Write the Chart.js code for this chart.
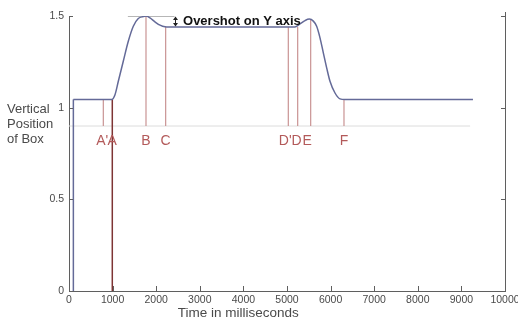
<!DOCTYPE html>
<html>
<head>
<meta charset="utf-8">
<script src="https://cdn.jsdelivr.net/npm/chart.js@4"></script>
<style>
    html, body { margin: 0; padding: 0; background: #ffffff; }
    #wrap { width: 518px; height: 320px; }
</style>
</head>
<body>
<div id="wrap"><canvas id="chart" width="518" height="320"></canvas></div>
<script>
// Box position trace (time in ms, vertical position)
const curveTimes = [100, 980, 1055, 1131, 1245, 1360, 1475, 1589, 1704, 1766, 1858, 1972, 2087, 2202, 2300,
    5180, 5298, 5413, 5512, 5604, 5680, 5757, 5833, 5910, 5986, 6101, 6216, 6330, 9265];
const curveValues = [1.045, 1.045, 1.071, 1.144, 1.253, 1.362, 1.444, 1.486, 1.497, 1.5, 1.49, 1.468, 1.45, 1.441, 1.44,
    1.44, 1.457, 1.475, 1.483, 1.472, 1.444, 1.381, 1.299, 1.217, 1.144, 1.08, 1.048, 1.045, 1.045];

// initial jump of the box
const stepTimes = [100, 100];
const stepValues = [0, 1.045];

// event markers
const markerLabels = ["A'", 'A', 'B', 'C', "D'", 'D', 'E', 'F'];
const markerTimes = [787, 993, 1766, 2217, 5030, 5245, 5543, 6307];
const markerTops = [1.045, 1.045, 1.5, 1.44, 1.44, 1.44, 1.48, 1.045];
const markerBottoms = [0.9, 0, 0.9, 0.9, 0.9, 0.9, 0.9, 0.9];
// letters sit slightly off their lines where they are crowded
const markerLabelTimes = [760, 990, 1766, 2217, 4960, 5220, 5460, 6307];

// threshold line and overshoot annotation
const refTimes = [0, 9200];
const refValues = [0.9, 0.9];
const overshootTimes = [1350, 2420];
const overshootValues = [1.5, 1.5];
const overshootArrowTime = 2430;
const overshootRange = [1.5, 1.44];
const overshootText = 'Overshot on Y axis';

// axes
const xTicks = [0, 1000, 2000, 3000, 4000, 5000, 6000, 7000, 8000, 9000, 10000];
const yTicks = [0, 0.5, 1, 1.5];
const xTitle = 'Time in milliseconds';
const yTitle = ['Vertical', 'Position', 'of Box'];

const FONT = 'Arial, "Liberation Sans", sans-serif';
const axisColor = '#5f5f5f';
const textColor = '#4a4a4a';
const markerColor = '#c99393';
const markerDark = '#7e3434';
const labelColor = '#b35a5a';

const zip = (xs, ys) => xs.map((v, i) => ({ x: v, y: ys[i] }));

const datasets = [
    {
        data: zip(curveTimes, curveValues),
        borderColor: '#646a98',
        borderWidth: 1.5,
        pointRadius: 0,
        cubicInterpolationMode: 'monotone'
    },
    {
        data: zip(stepTimes, stepValues),
        borderColor: '#646a98',
        borderWidth: 1.5,
        pointRadius: 0
    },
    {
        data: zip(overshootTimes, overshootValues),
        borderColor: '#6f6f6f',
        borderWidth: 1,
        pointRadius: 0
    }
];

markerTimes.forEach((t, i) => {
    datasets.push({
        data: [{ x: t, y: markerBottoms[i] }, { x: t, y: markerTops[i] }],
        borderColor: markerLabels[i] === 'A' ? markerDark : markerColor,
        borderWidth: markerLabels[i] === 'A' ? 1.5 : 1.2,
        pointRadius: 0
    });
});

datasets.push({
    data: zip(refTimes, refValues),
    borderColor: '#dcdcdc',
    borderWidth: 1,
    pointRadius: 0
});

// Inward ticks, right edge, labels and annotations
const decorations = {
    id: 'decorations',
    afterDraw(chart) {
        const { ctx, chartArea, scales: { x, y } } = chart;
        ctx.save();
        ctx.strokeStyle = axisColor;
        ctx.lineWidth = 1;

        ctx.beginPath();
        ctx.moveTo(Math.round(chartArea.right) + 0.5, chartArea.top - 4);
        ctx.lineTo(Math.round(chartArea.right) + 0.5, chartArea.bottom);
        ctx.stroke();

        ctx.beginPath();
        xTicks.forEach(v => {
            const px = Math.round(x.getPixelForValue(v)) + 0.5;
            ctx.moveTo(px, chartArea.bottom);
            ctx.lineTo(px, chartArea.bottom - 5);
        });
        yTicks.forEach(v => {
            const py = Math.round(y.getPixelForValue(v)) + 0.5;
            ctx.moveTo(chartArea.left, py);
            ctx.lineTo(chartArea.left + 4, py);
            ctx.moveTo(chartArea.right, py);
            ctx.lineTo(chartArea.right - 4, py);
        });
        ctx.stroke();

        // overshoot arrow
        const ax = Math.round(x.getPixelForValue(overshootArrowTime)) + 0.5;
        const y1 = y.getPixelForValue(overshootRange[0]);
        const y2 = y.getPixelForValue(overshootRange[1]);
        ctx.strokeStyle = '#222';
        ctx.fillStyle = '#222';
        ctx.beginPath();
        ctx.moveTo(ax, y1 + 1);
        ctx.lineTo(ax, y2 - 1);
        ctx.stroke();
        ctx.beginPath();
        ctx.moveTo(ax - 2.5, y1 + 4); ctx.lineTo(ax + 2.5, y1 + 4); ctx.lineTo(ax, y1 + 0.5);
        ctx.moveTo(ax - 2.5, y2 - 4); ctx.lineTo(ax + 2.5, y2 - 4); ctx.lineTo(ax, y2 - 0.5);
        ctx.fill();

        ctx.font = 'bold 13px ' + FONT;
        ctx.textAlign = 'left';
        ctx.textBaseline = 'middle';
        ctx.fillStyle = '#111';
        ctx.fillText(overshootText, x.getPixelForValue(2615), y.getPixelForValue(1.47));

        // marker letters
        ctx.font = '14px ' + FONT;
        ctx.textAlign = 'center';
        ctx.fillStyle = labelColor;
        markerLabels.forEach((lab, i) => {
            ctx.fillText(lab, x.getPixelForValue(markerLabelTimes[i]), y.getPixelForValue(0.82));
        });

        // axis titles
        ctx.fillStyle = textColor;
        ctx.font = '13px ' + FONT;
        ctx.textAlign = 'left';
        yTitle.forEach((line, i) => ctx.fillText(line, 7, 109 + i * 15));
        ctx.font = '13.5px ' + FONT;
        ctx.textAlign = 'center';
        ctx.fillText(xTitle, x.getPixelForValue(3880), 313);
        ctx.restore();
    }
};

Chart.defaults.font.family = FONT;
Chart.defaults.color = textColor;

new Chart(document.getElementById('chart').getContext('2d'), {
    type: 'line',
    data: { datasets: datasets },
    options: {
        responsive: false,
        animation: false,
        devicePixelRatio: 1,
        layout: { padding: { left: 0, right: 13, top: 16, bottom: 0 } },
        plugins: { legend: { display: false }, tooltip: { enabled: false } },
        elements: { line: { tension: 0 } },
        scales: {
            x: {
                type: 'linear',
                min: 0,
                max: 10000,
                grid: { display: false, drawTicks: false },
                border: { display: true, color: axisColor, width: 1 },
                ticks: {
                    stepSize: 1000,
                    padding: 3,
                    maxRotation: 0,
                    autoSkip: false,
                    font: { size: 10.5 },
                    color: textColor,
                    callback: v => String(v)
                },
                afterFit(scale) {
                    scale.height = 29;
                    scale.paddingLeft = 0;
                    scale.paddingRight = 0;
                }
            },
            y: {
                min: 0,
                max: 1.5,
                grid: { display: false, drawTicks: false },
                border: { display: true, color: axisColor, width: 1 },
                ticks: {
                    stepSize: 0.5,
                    padding: 5,
                    font: { size: 10.5 },
                    color: textColor,
                    callback: v => String(v)
                },
                afterFit(scale) {
                    scale.width = 69;
                }
            }
        }
    },
    plugins: [decorations]
});
</script>
</body>
</html>
